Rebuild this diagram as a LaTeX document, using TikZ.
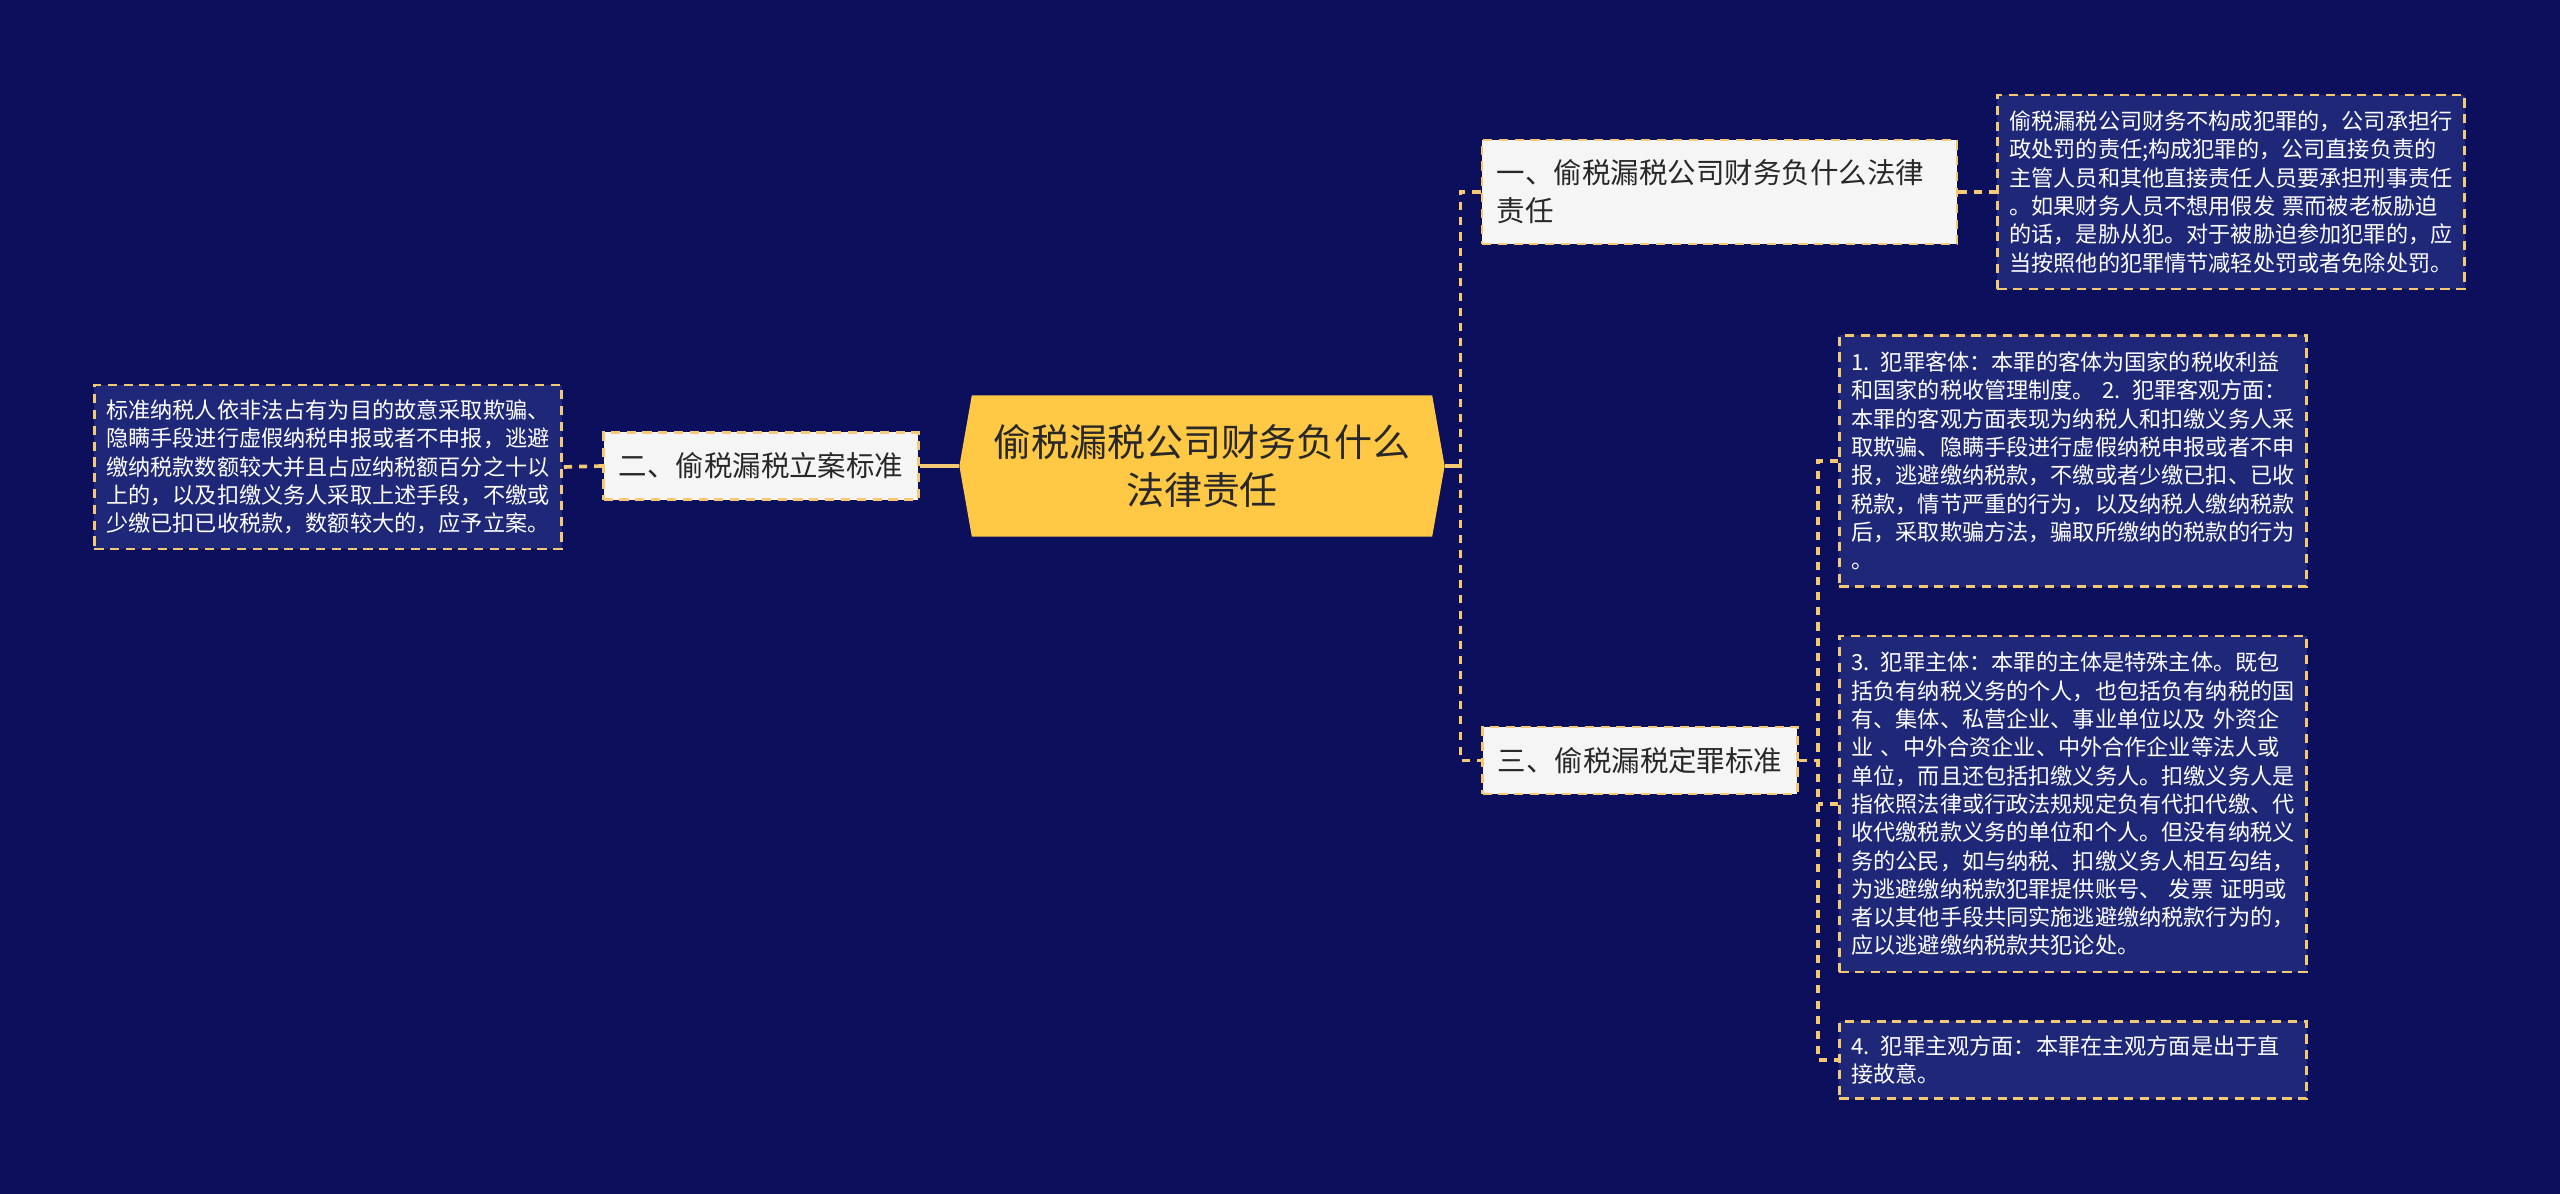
\documentclass[tikz,border=0pt]{standalone}
\usepackage{fontspec}
\newfontfamily\cjk{Noto Sans CJK SC}
\usetikzlibrary{shapes.symbols}
\definecolor{bgnavy}{RGB}{11,15,92}
\definecolor{leafblue}{RGB}{31,40,120}
\definecolor{hubyellow}{RGB}{255,200,69}
\definecolor{linktan}{RGB}{245,200,115}
\definecolor{topicgray}{RGB}{245,245,245}
\definecolor{inkgray}{RGB}{40,40,40}

\begin{document}
\begin{tikzpicture}[
    x=0.01cm, y=-0.01cm,
    hub/.style={shape=signal, signal to=west and east, signal pointer angle=160,
        fill=hubyellow, text=inkgray, minimum width=4.85cm, minimum height=1.41cm,
        inner sep=0pt, align=center, font=\cjk\fontsize{10.8}{13.9}\selectfont},
    topic/.style={draw=linktan, dash pattern=on 2.6pt off 1.9pt, line width=0.75pt,
        fill=topicgray, text=inkgray, align=left, inner xsep=0.15cm,
        font=\cjk\fontsize{8.1}{10.8}\selectfont},
    leaf/.style={draw=linktan, dash pattern=on 2.6pt off 1.9pt, line width=0.75pt,
        fill=leafblue, text=white, align=left, text width=4.43cm, inner xsep=0.12cm,
        inner ysep=0pt, font=\cjk\fontsize{6.3}{8.05}\selectfont},
    link/.style={draw=linktan, line width=1.05pt, dash pattern=on 2.3pt off 2pt},
    bar/.style={draw=linktan, line width=1.05pt}
]
\fill[bgnavy] (0,0) rectangle (2560,1194);

% centre
\node[hub] (hub) at (1202,466) {偷税漏税公司财务负什么\\法律责任};

% left branch
\node[topic, minimum height=0.67cm] (lian) at (761,466) {二、偷税漏税立案标准};
\node[leaf, minimum height=1.64cm] (lianleaf) at (328,467) {标准纳税人依非法占有为目的故意采取欺骗、\\
隐瞒手段进行虚假纳税申报或者不申报，逃避\\
缴纳税款数额较大并且占应纳税额百分之十以\\
上的，以及扣缴义务人采取上述手段，不缴或\\
少缴已扣已收税款，数额较大的，应予立案。};

% right branch
\node[topic, text width=4.45cm, minimum height=1.04cm] (zeren) at (1719.5,192) {一、偷税漏税公司财务负什么法律\\责任};
\node[leaf, minimum height=1.94cm] (zerenleaf) at (2231,192) {偷税漏税公司财务不构成犯罪的，公司承担行\\
政处罚的责任;构成犯罪的，公司直接负责的\\
主管人员和其他直接责任人员要承担刑事责任\\
。如果财务人员不想用假发 票而被老板胁迫\\
的话，是胁从犯。对于被胁迫参加犯罪的，应\\
当按照他的犯罪情节减轻处罚或者免除处罚。};

\node[topic, minimum height=0.67cm] (dingzui) at (1640,760.5) {三、偷税漏税定罪标准};
\node[leaf, minimum height=2.51cm] (keti) at (2073,461) {1. 犯罪客体：本罪的客体为国家的税收利益\\
和国家的税收管理制度。 2. 犯罪客观方面：\\
本罪的客观方面表现为纳税人和扣缴义务人采\\
取欺骗、隐瞒手段进行虚假纳税申报或者不申\\
报，逃避缴纳税款，不缴或者少缴已扣、已收\\
税款，情节严重的行为，以及纳税人缴纳税款\\
后，采取欺骗方法，骗取所缴纳的税款的行为\\
。};
\node[leaf, minimum height=3.36cm] (zhuti) at (2073,804) {3. 犯罪主体：本罪的主体是特殊主体。既包\\
括负有纳税义务的个人，也包括负有纳税的国\\
有、集体、私营企业、事业单位以及 外资企\\
业 、中外合资企业、中外合作企业等法人或\\
单位，而且还包括扣缴义务人。扣缴义务人是\\
指依照法律或行政法规规定负有代扣代缴、代\\
收代缴税款义务的单位和个人。但没有纳税义\\
务的公民，如与纳税、扣缴义务人相互勾结，\\
为逃避缴纳税款犯罪提供账号、 发票 证明或\\
者以其他手段共同实施逃避缴纳税款行为的，\\
应以逃避缴纳税款共犯论处。};
\node[leaf, minimum height=0.77cm] (zhuguan) at (2073,1060) {4. 犯罪主观方面：本罪在主观方面是出于直\\
接故意。};

% connectors
\coordinate (rbus) at (1462,466);
\draw[bar] (hub.west) -- (lian.east);
\draw[link] (lian.west) -- (lianleaf.east);
\draw[bar] (hub.east) -- (rbus);
\draw[link] (zeren.west) -- ++(-20,0) |- (dingzui.west);
\draw[link] (zeren.east) -- (zerenleaf.west);
\draw[link] (dingzui.east) -- ++(20,0);
\draw[link] (keti.west) -- ++(-20,0) |- (zhuguan.west);
\draw[link] (zhuti.west) -- ++(-20,0);

\end{tikzpicture}
\end{document}
